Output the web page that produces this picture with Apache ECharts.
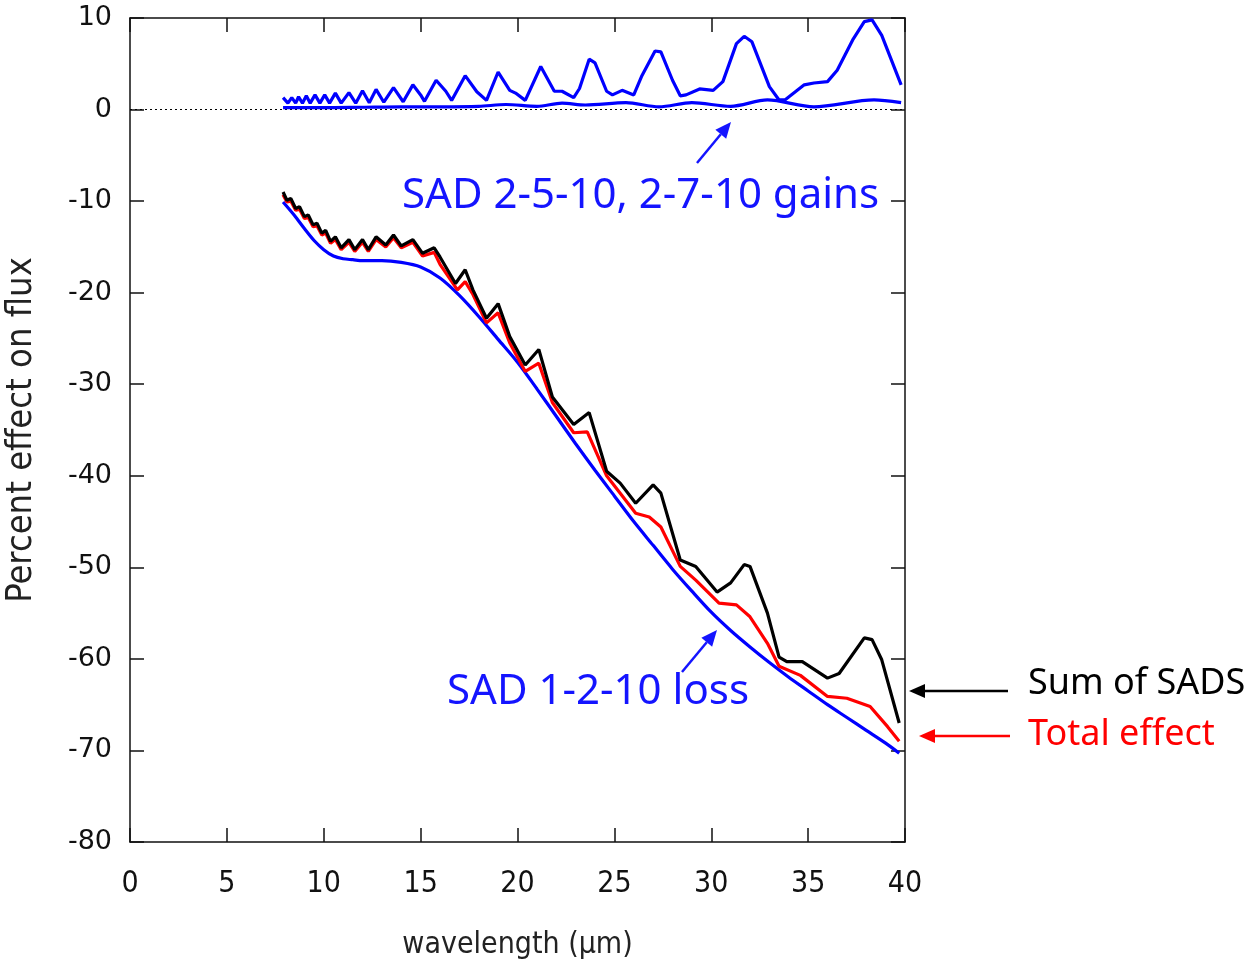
<!DOCTYPE html>
<html>
<head>
<meta charset="utf-8">
<script src="https://cdn.jsdelivr.net/npm/echarts@6/dist/echarts.min.js"></script>
<style>
  html, body { margin: 0; padding: 0; background: #fff; }
  #main { width: 1252px; height: 966px; }
</style>
</head>
<body>
<div id="main"></div>
<script>
// SAD 1-2-10 loss (smooth blue curve)
const lossX = [7.9, 8.5, 9, 9.5, 10, 10.5, 11, 11.5, 12, 13, 14, 15, 16, 17, 18, 19, 20, 21, 22, 23, 24, 25, 26, 27, 28, 29, 30, 31, 32, 33, 34, 35, 36, 37, 38, 39, 39.7];
const lossY = [-10.1, -11.6, -13.0, -14.3, -15.3, -16.0, -16.3, -16.4, -16.5, -16.5, -16.7, -17.2, -18.4, -20.3, -22.6, -25.1, -27.6, -30.5, -33.5, -36.5, -39.4, -42.2, -45.0, -47.6, -50.2, -52.6, -54.9, -56.9, -58.7, -60.4, -62.0, -63.5, -65.0, -66.4, -67.8, -69.2, -70.3];

// SAD 2-5-10 gain (the big oscillating blue curve on top)
const gainX = [7.9, 8.15, 8.35, 8.55, 8.7, 8.9, 9.1, 9.3, 9.55, 9.8, 10.05, 10.3, 10.6, 10.9, 11.3, 11.65, 12.0, 12.35, 12.7, 13.1, 13.6, 14.1, 14.6, 15.0, 15.2, 15.8, 16.3, 16.6, 17.3, 17.9, 18.4, 19.0, 19.6, 19.9, 20.4, 21.2, 21.9, 22.3, 22.9, 23.2, 23.7, 24.0, 24.6, 24.9, 25.4, 26.0, 26.4, 27.1, 27.4, 28.0, 28.4, 28.7, 29.4, 30.1, 30.6, 31.3, 31.7, 32.1, 33.0, 33.5, 33.8, 34.8, 35.3, 36.0, 36.5, 37.3, 37.9, 38.3, 38.8, 39.8];
const gainY = [1.3, 0.7, 1.3, 0.7, 1.4, 0.7, 1.5, 0.7, 1.6, 0.7, 1.6, 0.7, 1.8, 0.7, 1.85, 0.7, 2.05, 0.75, 2.2, 0.8, 2.4, 0.85, 2.7, 1.6, 0.9, 3.2, 2.0, 1.0, 3.7, 1.95, 1.0, 4.1, 2.1, 1.8, 1.0, 4.7, 2.0, 2.0, 1.3, 2.3, 5.5, 5.1, 2.0, 1.6, 2.1, 1.6, 3.6, 6.4, 6.3, 3.2, 1.5, 1.6, 2.25, 2.1, 3.05, 7.2, 8.0, 7.4, 2.5, 1.05, 1.05, 2.7, 2.9, 3.05, 4.3, 7.6, 9.6, 9.8, 8.1, 2.7];

// SAD 2-7-10 gain (small blue curve near zero)
const gain2X = [7.9, 10, 12, 14, 16, 18, 19.4, 21, 22.3, 23.5, 25.6, 27.3, 29.0, 31.0, 32.9, 35.3, 38.4, 39.8];
const gain2Y = [0.2, 0.2, 0.25, 0.3, 0.3, 0.35, 0.55, 0.35, 0.7, 0.5, 0.75, 0.3, 0.75, 0.35, 1.05, 0.3, 1.05, 0.75];

// Sum of SADS (black)
const sumX = [7.9, 8.1, 8.3, 8.55, 8.75, 9.0, 9.2, 9.45, 9.65, 9.9, 10.1, 10.35, 10.6, 10.9, 11.3, 11.6, 12.0, 12.3, 12.7, 13.2, 13.6, 14.0, 14.6, 15.1, 15.7, 16.0, 16.8, 17.3, 17.7, 18.4, 19.0, 19.6, 20.4, 21.1, 21.8, 22.9, 23.7, 24.6, 25.3, 26.1, 27.0, 27.4, 28.4, 29.2, 30.3, 31.0, 31.7, 32.0, 32.9, 33.5, 33.9, 34.7, 36.0, 36.6, 37.9, 38.3, 38.8, 39.7];
const sumY = [-9.0, -9.9, -9.7, -10.8, -10.6, -11.7, -11.5, -12.6, -12.4, -13.5, -13.2, -14.4, -13.9, -15.1, -14.2, -15.3, -14.2, -15.3, -13.9, -14.8, -13.7, -14.9, -14.2, -15.7, -15.1, -16.1, -19.0, -17.5, -19.7, -22.8, -21.2, -24.8, -27.9, -26.2, -31.4, -34.4, -33.1, -39.5, -40.8, -43.0, -41.0, -41.9, -49.2, -49.9, -52.7, -51.7, -49.7, -49.9, -55.0, -59.8, -60.3, -60.3, -62.1, -61.6, -57.7, -57.9, -60.1, -67.0];

// Total effect (red)
const totalX = [7.9, 8.1, 8.3, 8.55, 8.75, 9.0, 9.2, 9.45, 9.65, 9.9, 10.1, 10.35, 10.6, 10.9, 11.3, 11.6, 12.0, 12.3, 12.7, 13.2, 13.6, 14.0, 14.6, 15.1, 15.7, 16.0, 16.9, 17.3, 17.7, 18.4, 19.0, 19.6, 20.4, 21.1, 21.8, 22.9, 23.6, 24.6, 25.3, 26.1, 26.8, 27.4, 28.4, 29.2, 30.4, 31.3, 32.0, 32.9, 33.5, 34.6, 36.0, 37.0, 38.2, 39.1, 39.7];
const totalY = [-9.3, -10.1, -10.0, -11.0, -10.9, -11.9, -11.8, -12.8, -12.7, -13.7, -13.5, -14.6, -14.2, -15.3, -14.5, -15.5, -14.5, -15.5, -14.2, -15.0, -14.0, -15.1, -14.5, -16.0, -15.6, -16.9, -19.7, -18.8, -20.2, -23.3, -22.2, -25.5, -28.6, -27.7, -32.0, -35.3, -35.2, -40.0, -41.9, -44.1, -44.5, -45.6, -49.9, -51.4, -53.9, -54.1, -55.4, -58.3, -60.8, -61.8, -64.1, -64.3, -65.2, -67.4, -69.0];

const xTicks = { min: 0, max: 40, interval: 5 };
const yTicks = { min: -80, max: 10, interval: 10 };

const zip = (xs, ys) => xs.map((x, i) => [x, ys[i]]);

const chart = echarts.init(document.getElementById('main'));

const axisLine = { show: true, onZero: false, lineStyle: { color: '#111', width: 1.5 } };
const axisTick = { show: true, inside: true, length: 14, lineStyle: { color: '#111', width: 1.5 } };

function arrow(x1, y1, x2, y2, color) {
    const ang = Math.atan2(y2 - y1, x2 - x1);
    const len = 16, half = 7;
    const bx = x2 - len * Math.cos(ang), by = y2 - len * Math.sin(ang);
    const px = -Math.sin(ang) * half, py = Math.cos(ang) * half;
    return [
        { type: 'line', shape: { x1: x1, y1: y1, x2: bx, y2: by }, style: { stroke: color, lineWidth: 2.5 } },
        { type: 'polygon', shape: { points: [[x2, y2], [bx + px, by + py], [bx - px, by - py]] }, style: { fill: color } }
    ];
}

function label(x, y, text, size, color) {
    return { type: 'text', x: x, y: y, style: { text: text, fontSize: size, fontFamily: 'Noto Sans', fill: color, verticalAlign: 'middle' } };
}

const annBlue = '#1414ff';

chart.setOption({
    animation: false,
    backgroundColor: '#fff',
    grid: { left: 130, top: 18, width: 775, height: 824, containLabel: false, outerBoundsMode: 'none' },
    xAxis: [{
        type: 'value', ...xTicks, position: 'bottom',
        name: 'wavelength (µm)', nameLocation: 'middle', nameGap: 88,
        nameTextStyle: { fontFamily: 'DejaVu Sans Condensed', fontSize: 30, color: '#222' },
        axisLine: axisLine, axisTick: axisTick, splitLine: { show: false },
        axisLabel: { fontFamily: 'DejaVu Sans Condensed', fontSize: 30, color: '#111', margin: 27 }
    }, {
        type: 'value', ...xTicks, position: 'top',
        axisLine: axisLine, axisTick: axisTick, splitLine: { show: false }, axisLabel: { show: false }
    }],
    yAxis: [{
        type: 'value', ...yTicks, position: 'left',
        name: 'Percent effect on flux', nameLocation: 'middle', nameGap: 90,
        nameTextStyle: { fontFamily: 'DejaVu Sans Condensed', fontSize: 36, color: '#222' },
        axisLine: axisLine, axisTick: axisTick, splitLine: { show: false },
        axisLabel: { fontFamily: 'DejaVu Sans', fontSize: 27, color: '#111', margin: 18 }
    }, {
        type: 'value', ...yTicks, position: 'right',
        axisLine: axisLine, axisTick: axisTick, splitLine: { show: false }, axisLabel: { show: false }
    }],
    series: [
        {
            name: 'SAD 1-2-10 loss', type: 'line', data: zip(lossX, lossY), smooth: 0.3,
            symbol: 'none', lineStyle: { color: '#0000ff', width: 3.2 }, z: 2
        },
        {
            name: 'Total effect', type: 'line', data: zip(totalX, totalY),
            symbol: 'none', lineStyle: { color: '#ff0000', width: 3.2 }, z: 3
        },
        {
            name: 'Sum of SADS', type: 'line', data: zip(sumX, sumY),
            symbol: 'none', lineStyle: { color: '#000', width: 3.2 }, z: 4
        },
        {
            name: 'SAD 2-5-10', type: 'line', data: zip(gainX, gainY),
            symbol: 'none', lineStyle: { color: '#0000ff', width: 3.2 }, z: 5
        },
        {
            name: 'SAD 2-7-10', type: 'line', data: zip(gain2X, gain2Y), smooth: 0.3,
            symbol: 'none', lineStyle: { color: '#0000ff', width: 3.2 }, z: 5,
            markLine: {
                silent: true, symbol: ['none', 'none'], label: { show: false },
                lineStyle: { type: [2, 3], color: '#000', width: 1.2 },
                data: [{ yAxis: 0 }]
            }
        }
    ],
    graphic: [
        label(402, 196, 'SAD 2-5-10, 2-7-10 gains', 42, annBlue),
        ...arrow(697, 163, 731, 122, annBlue),
        label(447, 692, 'SAD 1-2-10 loss', 42, annBlue),
        ...arrow(682, 672, 717, 630, annBlue),
        label(1028, 684, 'Sum of SADS', 36, '#000'),
        ...arrow(1008, 691, 909, 691, '#000'),
        label(1028, 735, 'Total effect', 36, '#ff0000'),
        ...arrow(1010, 736, 919, 736, '#ff0000')
    ]
});

window.onresize = () => chart.resize();
</script>
</body>
</html>
